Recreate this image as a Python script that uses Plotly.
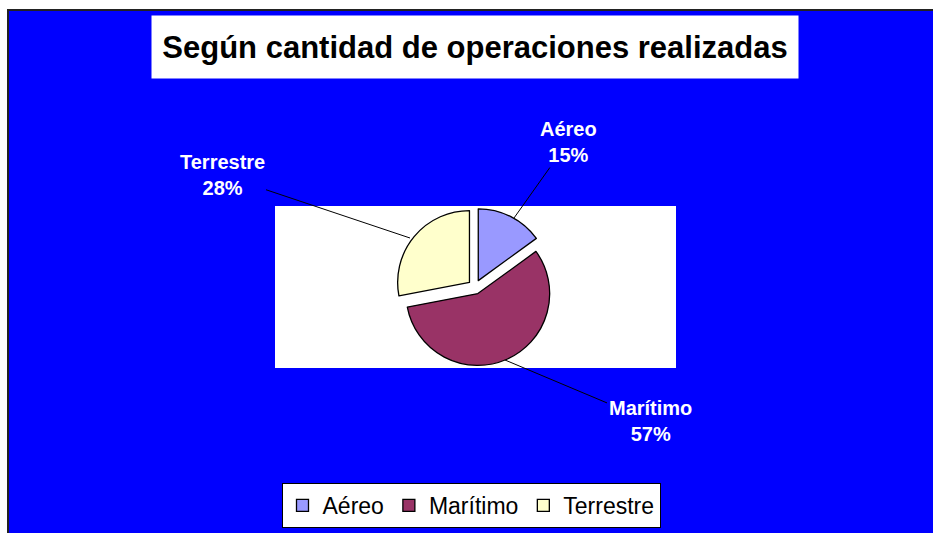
import plotly.graph_objects as go

categories = ["Aéreo", "Marítimo", "Terrestre"]
values = [15, 57, 28]
colors = ["#9999FF", "#993366", "#FFFFCC"]
title_text = "Según cantidad de operaciones realizadas"

W, H = 933, 533
def px(x):
    return x / W
def py(y):
    return 1 - y / H

total = sum(values)
pcts = [round(v * 100 / total) for v in values]

fig = go.Figure()
fig.add_trace(go.Pie(
    labels=categories,
    values=values,
    sort=False,
    direction="clockwise",
    rotation=0,
    pull=[0.1, 0.1, 0.1],
    marker=dict(colors=colors, line=dict(color="black", width=1.3)),
    textinfo="none",
    hoverinfo="label+percent",
    domain=dict(x=[px(285), px(665)], y=[py(366), py(208)]),
))

# label annotations: (label index, text center px, arrow tip px)
label_pos = {
    0: ((568, 142), (514, 218)),
    1: ((650, 421), (505, 360)),
    2: ((222, 175), (410, 238)),
}
annotations = [dict(
    x=px(475), y=py(47), xref="paper", yref="paper",
    text="<b>" + title_text + "</b>", showarrow=False,
    xanchor="center", yanchor="middle",
    width=644, height=60, bgcolor="white",
    font=dict(family="Arial, Liberation Sans", size=31, color="black"),
)]
for i, ((tx, ty), (ax_, ay_)) in label_pos.items():
    annotations.append(dict(
        x=px(ax_), y=py(ay_), xref="paper", yref="paper",
        ax=tx - ax_, ay=ty - ay_,
        text="<b>%s<br>%d%%</b>" % (categories[i], pcts[i]),
        showarrow=True, arrowhead=0, arrowwidth=1, arrowcolor="black",
        font=dict(family="Arial, Liberation Sans", size=20, color="white"),
        align="center",
    ))

shapes = [
    dict(type="rect", xref="paper", yref="paper",
         x0=px(8), x1=px(945), y0=py(545), y1=py(10),
         fillcolor="#0000FF", line=dict(color="#222222", width=2), layer="below"),
    dict(type="rect", xref="paper", yref="paper",
         x0=px(275), x1=px(676), y0=py(368), y1=py(206),
         fillcolor="white", line=dict(width=0), layer="below"),
]

fig.update_layout(
    width=W, height=H,
    margin=dict(l=0, r=0, t=0, b=0),
    paper_bgcolor="white",
    plot_bgcolor="white",
    showlegend=True,
    legend=dict(
        orientation="h", x=px(471), xanchor="center", y=py(483), yanchor="top",
        bgcolor="white", bordercolor="black", borderwidth=1,
        font=dict(family="Arial, Liberation Sans", size=23, color="black"),
        traceorder="normal", itemwidth=30,
    ),
    annotations=annotations,
    shapes=shapes,
)

fig.write_html("out.html", config={"displayModeBar": False},
               post_script="document.body.style.margin='0';")
